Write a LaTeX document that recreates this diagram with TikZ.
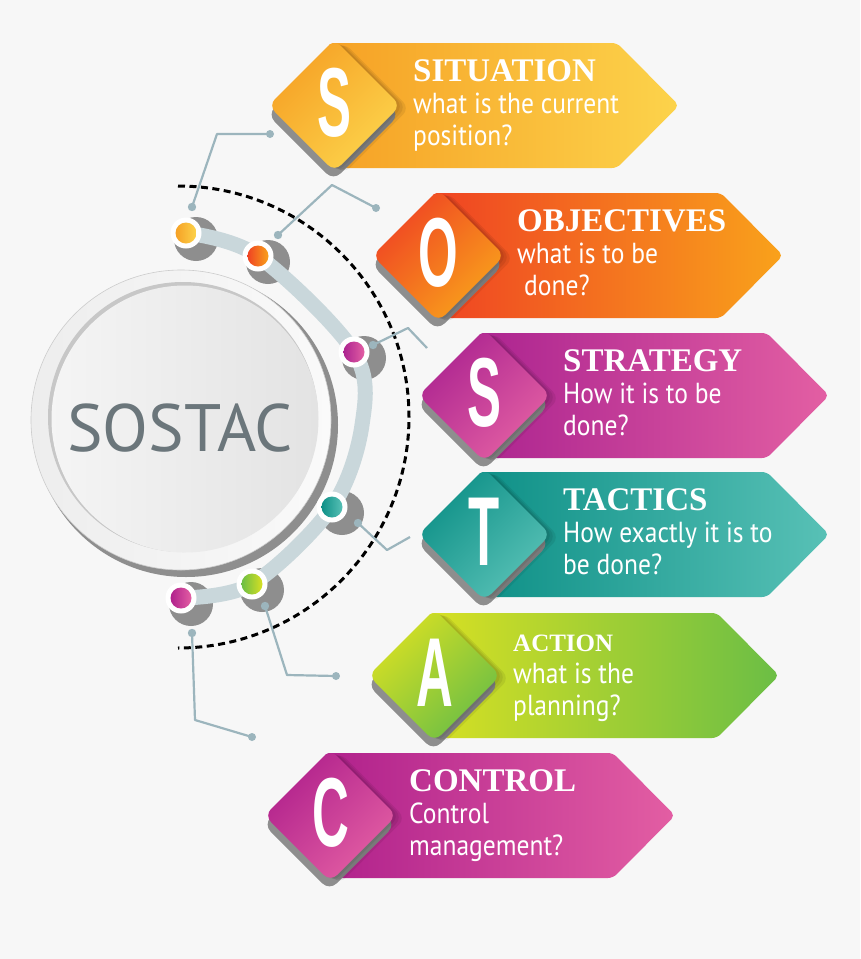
\documentclass[tikz,border=0pt]{standalone}
\usepackage{fontspec}
\usepackage{graphicx}
\usetikzlibrary{calc}
\setmainfont{Liberation Serif}
\newfontfamily\bodyfont{PT Sans}[FakeStretch=0.88]
\newfontfamily\bigfont{PT Sans}
\newfontfamily\letterfont{Liberation Sans}
\definecolor{bg}{HTML}{F7F7F7}
\definecolor{sitL}{HTML}{F6A125}
\definecolor{sitR}{HTML}{FCD34B}
\definecolor{objL}{HTML}{EF4323}
\definecolor{objR}{HTML}{F9A21B}
\definecolor{strL}{HTML}{AC2490}
\definecolor{strR}{HTML}{E35FA3}
\definecolor{tacL}{HTML}{0E9087}
\definecolor{tacR}{HTML}{58C1B6}
\definecolor{actL}{HTML}{D8E023}
\definecolor{actR}{HTML}{6BBE45}
\definecolor{conL}{HTML}{B0218C}
\definecolor{conR}{HTML}{E35EA3}
\definecolor{linkc}{HTML}{9CB5BD}
\definecolor{bandc}{HTML}{C9D7DB}
\definecolor{shadowgray}{HTML}{8E8E8E}
\definecolor{sostacc}{HTML}{6B767B}
\tikzset{
  banner title/.style={text=white, font=\fontsize{33}{33}\selectfont\bfseries, inner sep=0pt, anchor=base west},
  banner text/.style={text=white, font=\bodyfont\fontsize{29}{29}\selectfont, inner sep=0pt, anchor=base west},
  letterstyle/.style={text=white, inner sep=0pt, font=\letterfont\bfseries\fontsize{98}{98}\selectfont},
  link/.style={draw=linkc, line width=2.2pt, line join=round},
  linkdot/.style={fill=linkc},
  band/.style={draw=bandc, line width=15pt},
  ringnode/.style={circle, fill=white, minimum size=31pt, inner sep=0pt},
  nodeshadow/.style={fill=shadowgray},
}
% diamond path: offset x, offset y, extra size
\newcommand{\dpath}[3]{(#1-#3-3.5,#2+62.5) -- (#1+62.5,#2-#3-3.5) -- (#1+128.5+#3,#2+62.5) -- (#1+62.5,#2+128.5+#3) -- cycle}
% #1 name, #2 L,T, #3 left color, #4 right color, #5 letter, #6 title, #7 line 1, #8 line 2
\newcommand{\sbanner}[8]{%
  \begin{scope}[shift={(#2)}]
    \shade[left color=#3, right color=#4, rounded corners=5pt]
      (56,0) -- (345,0) -- (407,62.5) -- (345,125) -- (56,125) -- cycle;
    \fill[shadowgray, rounded corners=10pt] \dpath{-1}{9}{0};
    \foreach \o in {3,6,9}{
      \fill[black, opacity=0.07, rounded corners=9pt] \dpath{\o}{\o*0.3}{0};
    }
    \shade[top color=#3, bottom color=#4, shading angle=45, rounded corners=9pt] \dpath{0}{0}{0};
    \node[letterstyle] (#1l) at (62.5,60) {\scalebox{0.52}[1]{#5}};
    \node[banner title] (#1t) at (141,38) {#6};
    \node[banner text] (#1a) at (141,70) {#7};
    \node[banner text] (#1b) at (141,102) {#8};
  \end{scope}}
\begin{document}
\begin{tikzpicture}[x=1pt, y=-1pt]
\useasboundingbox (0,0) rectangle (860,959);
\fill[bg] (0,0) rectangle (860,959);

% central circle
\fill[shadowgray] (186,425) circle (152);
\shade[left color=black!7, right color=black!2, draw=black!20, line width=0.6pt] (181,420) circle (150);
\fill[black!22] (183,417) circle (135);
\shade[left color=black!4, right color=black!11] (185,419) circle (133.5);
\node[text=sostacc, font=\bigfont\fontsize{67}{67}\selectfont, inner sep=0pt] (sostac) at (180,428) {SOSTAC};

% dashed arc
\draw[line width=3pt, dash pattern=on 7pt off 4.5pt] (178,186) arc[start angle=-90, end angle=90, radius=231];

% node positions
\coordinate (p1) at (186,233);
\coordinate (p2) at (258,256);
\coordinate (p3) at (354,352);
\coordinate (p4) at (332,507);
\coordinate (p5) at (252,584);
\coordinate (p6) at (181,598);

% gray shadows behind nodes
\foreach \p in {p1,p2,p3,p4,p5,p6}{
  \fill[nodeshadow] ($(\p)+(10,6)$) circle (22);
}
% band
\draw[band] plot[smooth, tension=0.55] coordinates {(p1) (p2) (p3) (362,425) (p4) (p5) (p6)};

% connectors
\coordinate (a1) at (192,207); \coordinate (b1) at (217,134); \coordinate (e1) at (270,134);
\coordinate (a2) at (278,235); \coordinate (b2) at (332,185); \coordinate (e2) at (376,208);
\coordinate (a3) at (373,345); \coordinate (b3) at (408,328); \coordinate (e3) at (427,348);
\coordinate (a4) at (358,523); \coordinate (b4) at (387,550); \coordinate (e4) at (410,537);
\coordinate (a5) at (265,606); \coordinate (b5) at (287,675); \coordinate (e5) at (336,676);
\coordinate (a6) at (192,633); \coordinate (b6) at (195,720); \coordinate (e6) at (252,737);
\foreach \i in {1,...,6}{
  \draw[link] (a\i) -- (b\i) -- (e\i);
  \fill[linkdot] (a\i) circle (4.2);
}
\foreach \i in {1,2,5,6}{
  \fill[linkdot] (e\i) circle (4);
}

% ring nodes
\node[ringnode] (n1) at (p1) {};
\node[ringnode] (n2) at (p2) {};
\node[ringnode] (n3) at (p3) {};
\node[ringnode] (n4) at (p4) {};
\node[ringnode] (n5) at (p5) {};
\node[ringnode] (n6) at (p6) {};
\shade[left color=sitL, right color=sitR] (n1.center) circle (10.5);
\shade[left color=objL, right color=objR] (n2.center) circle (10.5);
\shade[left color=strL, right color=strR] (n3.center) circle (10.5);
\shade[left color=tacL, right color=tacR] (n4.center) circle (10.5);
\shade[left color=actR, right color=actL] (n5.center) circle (10.5);
\shade[left color=conL, right color=conR] (n6.center) circle (10.5);

% banners
\sbanner{sit}{272,43}{sitL}{sitR}{S}{SITUATION}{what is the current}{position?}
\sbanner{obj}{376,193}{objL}{objR}{O}{OBJECTIVES}{what is to be}{\hspace{7pt}done?}
\sbanner{str}{422,333}{strL}{strR}{S}{STRATEGY}{How it is to be}{done?}
\sbanner{tac}{422,472}{tacL}{tacR}{T}{TACTICS}{How exactly it is to}{be done?}
\sbanner{act}{372,613}{actL}{actR}{A}{{\fontsize{25}{25}\selectfont ACTION}}{what is the}{planning?}
\sbanner{con}{268,753}{conL}{conR}{C}{CONTROL}{Control}{management?}
\end{tikzpicture}
\end{document}
